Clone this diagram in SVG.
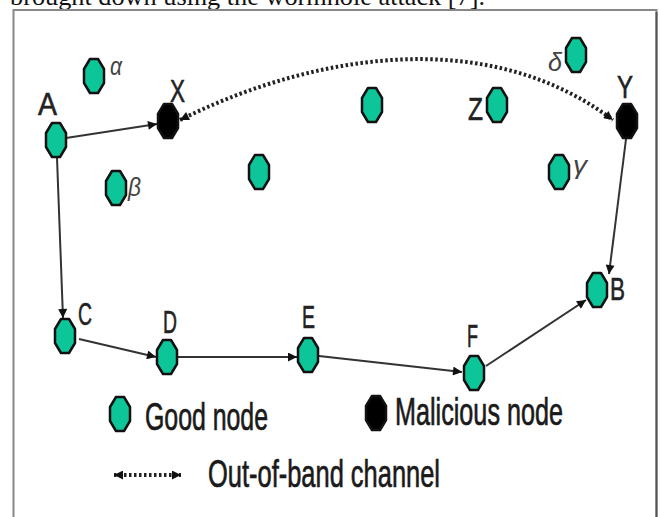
<svg xmlns="http://www.w3.org/2000/svg" width="661" height="517" viewBox="0 0 661 517">
<defs>
<style>
.good{fill:#0CC69A;stroke:#111;stroke-width:2.5;stroke-linejoin:round}
.bad{fill:#000;stroke:#111;stroke-width:2.5;stroke-linejoin:round}
.lbl{font-family:"Liberation Sans",Arial,sans-serif;font-size:32px;fill:#222;stroke:#222;stroke-width:0.6}
.gr{font-family:"Liberation Sans",Arial,sans-serif;font-size:26px;font-style:italic;fill:#444}
.leg{font-family:"Liberation Sans",Arial,sans-serif;font-size:39px;fill:#1a1a1a;stroke:#1a1a1a;stroke-width:0.7}
.edge{fill:none;stroke:#333;stroke-width:2}
.oob{fill:none;stroke:#222;stroke-width:4;stroke-dasharray:2.5 2.5}
</style>
<path id="oct" d="M-4,-17 L4,-17 L10,-7 L10,7 L4,17 L-4,17 L-10,7 L-10,-7 Z"/>
<marker id="ah" viewBox="0 0 10 10" refX="10" refY="5" markerWidth="10" markerHeight="9" markerUnits="userSpaceOnUse" orient="auto-start-reverse">
<path d="M0,0 L10,5 L0,10 Z" fill="#111"/>
</marker>
</defs>
<rect width="661" height="517" fill="#fff"/>
<text x="10" y="5" font-family="'Liberation Serif','Times New Roman',serif" font-size="26" fill="#111" textLength="475" lengthAdjust="spacingAndGlyphs">brought down using the wormhole attack [7].</text>
<rect x="13.5" y="10" width="643" height="530" fill="#fff" stroke="#888" stroke-width="2"/>
<line x1="656.5" y1="12" x2="656.5" y2="517" stroke="#555" stroke-width="2"/>

<g id="connectors">
<path class="edge" d="M66,138 L157,124" marker-end="url(#ah)"/>
<path class="edge" d="M57,158 L63,318" marker-end="url(#ah)"/>
<path class="edge" d="M79,339 L156,357" marker-end="url(#ah)"/>
<path class="edge" d="M178,357 L297,357" marker-end="url(#ah)"/>
<path class="edge" d="M319,356 L462,372" marker-end="url(#ah)"/>
<path class="edge" d="M486,366 L586,300" marker-end="url(#ah)"/>
<path class="edge" d="M626,139 L609,274" marker-end="url(#ah)"/>
<path class="oob" d="M180,120 C300,60 480,20 613,120" marker-start="url(#ah)" marker-end="url(#ah)"/>
</g>

<g id="node-alpha"><use href="#oct" class="good" x="94" y="76"/><text class="gr" x="110" y="75" textLength="12" lengthAdjust="spacingAndGlyphs">α</text></g>
<g id="node-A"><use href="#oct" class="good" x="56" y="140"/><text class="lbl" x="38" y="115" textLength="19" lengthAdjust="spacingAndGlyphs">A</text></g>
<g id="node-X"><use href="#oct" class="bad" x="168" y="121"/><text class="lbl" x="170" y="102" textLength="15" lengthAdjust="spacingAndGlyphs">X</text></g>
<g id="node-beta"><use href="#oct" class="good" x="116" y="188"/><text class="gr" x="128" y="196" textLength="13" lengthAdjust="spacingAndGlyphs">β</text></g>
<g id="node-n1"><use href="#oct" class="good" x="259" y="172"/></g>
<g id="node-n2"><use href="#oct" class="good" x="372" y="105"/></g>
<g id="node-Z"><use href="#oct" class="good" x="497" y="105"/><text class="lbl" x="468" y="120" textLength="15" lengthAdjust="spacingAndGlyphs">Z</text></g>
<g id="node-delta"><use href="#oct" class="good" x="576" y="55"/><text class="gr" x="548" y="71" textLength="14" lengthAdjust="spacingAndGlyphs">δ</text></g>
<g id="node-Y"><use href="#oct" class="bad" x="627" y="121"/><text class="lbl" x="617" y="98" textLength="16" lengthAdjust="spacingAndGlyphs">Y</text></g>
<g id="node-gamma"><use href="#oct" class="good" x="559" y="172"/><text class="gr" x="573" y="174" textLength="14" lengthAdjust="spacingAndGlyphs">γ</text></g>
<g id="node-B"><use href="#oct" class="good" x="597" y="290"/><text class="lbl" x="610" y="300" textLength="15" lengthAdjust="spacingAndGlyphs">B</text></g>
<g id="node-C"><use href="#oct" class="good" x="65" y="336"/><text class="lbl" x="78" y="325" textLength="14" lengthAdjust="spacingAndGlyphs">C</text></g>
<g id="node-D"><use href="#oct" class="good" x="167" y="357"/><text class="lbl" x="163" y="333" textLength="14" lengthAdjust="spacingAndGlyphs">D</text></g>
<g id="node-E"><use href="#oct" class="good" x="308" y="355"/><text class="lbl" x="302" y="328" textLength="13" lengthAdjust="spacingAndGlyphs">E</text></g>
<g id="node-F"><use href="#oct" class="good" x="474" y="373"/><text class="lbl" x="467" y="347" textLength="11" lengthAdjust="spacingAndGlyphs">F</text></g>

<g id="legend">
<use href="#oct" class="good" x="120" y="414"/>
<text class="leg" x="145" y="430" textLength="123" lengthAdjust="spacingAndGlyphs">Good node</text>
<use href="#oct" class="bad" x="376" y="413"/>
<text class="leg" x="395" y="425" textLength="168" lengthAdjust="spacingAndGlyphs">Malicious node</text>
<path class="oob" d="M114,475 L181,475" stroke-width="3" marker-start="url(#ah)" marker-end="url(#ah)"/>
<text class="leg" x="208" y="487" textLength="232" lengthAdjust="spacingAndGlyphs">Out-of-band channel</text>
</g>
</svg>
